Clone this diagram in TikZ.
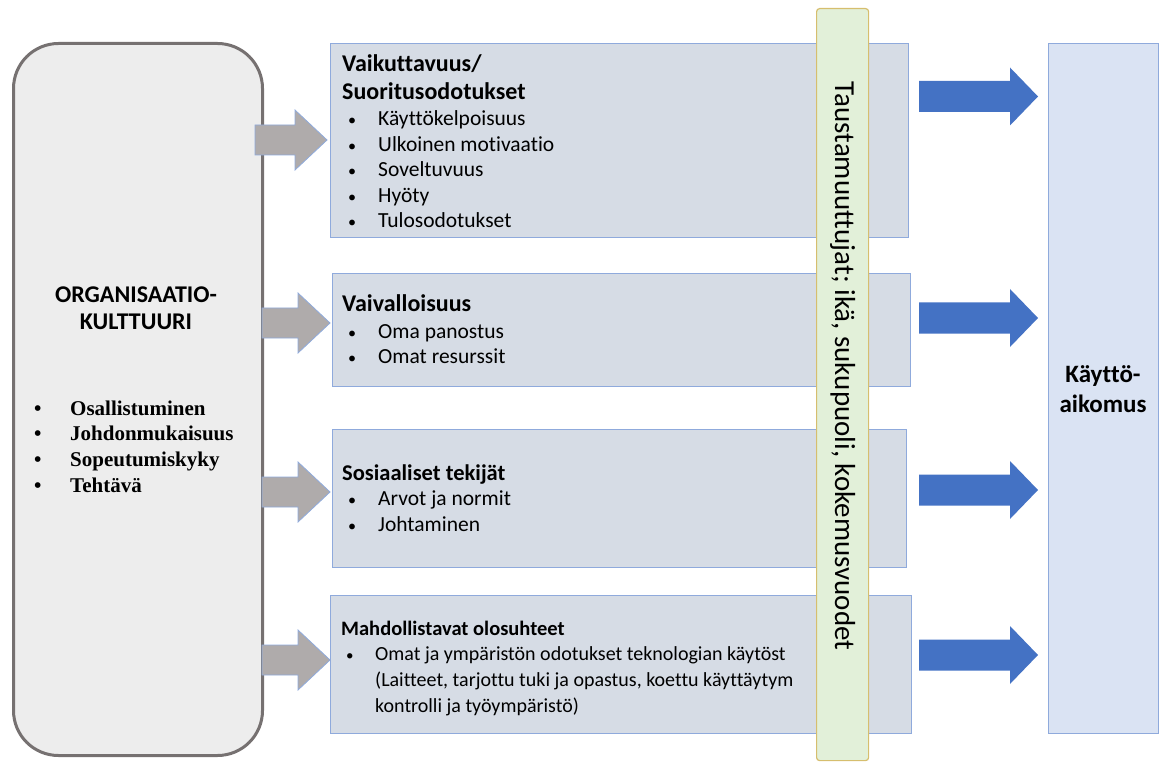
\documentclass[tikz,border=0pt]{standalone}
\usepackage{fontspec}
\setmainfont{Carlito}[Ligatures=CommonOff]
\newfontfamily\serifbold{Liberation Serif}
\usepackage{tikz}
\usetikzlibrary{positioning, calc}
\definecolor{orggray}{RGB}{237, 237, 237}
\definecolor{orgline}{RGB}{118, 113, 113}
\definecolor{boxfill}{RGB}{214, 220, 229}
\definecolor{boxline}{RGB}{143, 170, 220}
\definecolor{arrgray}{RGB}{175, 171, 171}
\definecolor{arrblue}{RGB}{68, 114, 196}
\definecolor{barfill}{RGB}{226, 240, 217}
\definecolor{barline}{RGB}{214, 190, 110}
\definecolor{goalfill}{RGB}{218, 227, 243}

\newcommand{\bul}{\makebox[31pt][l]{\hspace*{1pt}\scalebox{0.75}{\textbullet}}}
% block arrow: style, x start, x end, y centre, shaft half, head half, head length
\newcommand{\blockarrow}[7]{%
  \draw[#1] (#2,#4-#5) -- (#3-#7,#4-#5) -- (#3-#7,#4-#6) -- (#3,#4)
    -- (#3-#7,#4+#6) -- (#3-#7,#4+#5) -- (#2,#4+#5) -- cycle;}

\begin{document}
\begin{tikzpicture}[x=1pt, y=-1pt,
  factor/.style={draw=boxline, fill=boxfill, line width=1.2pt, anchor=north west, inner sep=0pt},
  line/.style={anchor=base west, inner sep=0pt},
  item/.style={line, font=\fontsize{21.5}{26}\selectfont},
  grayarrow/.style={draw=boxline, fill=arrgray, line width=0.8pt},
  bluearrow/.style={draw=none, fill=arrblue}]
  \useasboundingbox (0,0) rectangle (1160,762);

  % Organisational culture
  \node[draw=orgline, fill=orggray, line width=3pt, rounded corners=45pt, minimum width=249pt, minimum height=712pt, anchor=north west] (org) at (12,42) {};
  \node[line, anchor=base, font=\bfseries\fontsize{24}{28}\selectfont] (orgtitle1) at (136,302) {ORGANISAATIO-};
  \node[line, anchor=base, font=\bfseries\fontsize{24}{28}\selectfont] (orgtitle2) at (136,330) {KULTTUURI};
  \foreach \txt [count=\i] in {Osallistuminen, Johdonmukaisuus, Sopeutumiskyky, Tehtävä}
    \node[line, font=\serifbold\bfseries\fontsize{21}{26}\selectfont] (org-\i) at (34,415-25.7+25.7*\i) {\makebox[36pt][l]{\textbullet}\txt};

  % Factor boxes
  \node[factor, minimum width=578pt, minimum height=194pt] (perf) at (330,43) {};
  \node[factor, minimum width=578pt, minimum height=113pt] (effort) at (332,273) {};
  \node[factor, minimum width=574pt, minimum height=138pt] (social) at (332,429) {};
  \node[factor, minimum width=581pt, minimum height=138pt] (cond) at (330,595) {};

  % Performance expectancy
  \node[line, font=\bfseries\fontsize{24}{28}\selectfont] (perftitle1) at (342,72) {Vaikuttavuus/};
  \node[line, font=\bfseries\fontsize{24}{28}\selectfont] (perftitle2) at (342,100) {Suoritusodotukset};
  \foreach \txt [count=\i] in {Käyttökelpoisuus, Ulkoinen motivaatio, Soveltuvuus, Hyöty, Tulosodotukset}
    \node[item] (perf-\i) at (347,126-25.5+25.5*\i) {\bul\txt};

  % Effort expectancy
  \node[line, font=\bfseries\fontsize{24}{28}\selectfont] (efforttitle) at (342,312) {Vaivalloisuus};
  \foreach \txt [count=\i] in {Oma panostus, Omat resurssit}
    \node[item] (effort-\i) at (347,338-25.5+25.5*\i) {\bul\txt};

  % Social influence
  \node[line, font=\bfseries\fontsize{22.5}{28}\selectfont] (socialtitle) at (342,480) {Sosiaaliset tekijät};
  \foreach \txt [count=\i] in {Arvot ja normit, Johtaminen}
    \node[item] (social-\i) at (347,505.5-26+26*\i) {\bul\txt};

  % Facilitating conditions
  \node[line, font=\bfseries\fontsize{20.5}{26}\selectfont] (condtitle) at (341,635) {Mahdollistavat olosuhteet};
  \node[line, font=\fontsize{20}{26}\selectfont] (cond-1) at (345,660) {\makebox[30pt][l]{\hspace*{1pt}\scalebox{0.75}{\textbullet}}Omat ja ympäristön odotukset teknologian käytöst};
  \node[line, font=\fontsize{20}{26}\selectfont] (cond-2) at (375,686) {(Laitteet, tarjottu tuki ja opastus, koettu käyttäytym};
  \node[line, font=\fontsize{20}{26}\selectfont] (cond-3) at (375,712) {kontrolli ja työympäristö)};

  % Background variables
  \node[draw=barline, fill=barfill, line width=1.2pt, rounded corners=3pt, minimum width=52pt, minimum height=752pt, anchor=north west] (bar) at (816,8) {};
  \node[rotate=-90, font=\fontsize{29}{32}\selectfont] (bartext) at (bar.center |- 0,366) {Taustamuuttujat; ikä, sukupuoli, kokemusvuodet};

  % Intention
  \node[draw=boxline, fill=goalfill, line width=1.2pt, minimum width=110pt, minimum height=690pt, anchor=north west] (goal) at (1048,43) {};
  \node[line, anchor=base, font=\bfseries\fontsize{25}{28}\selectfont] (goaltext1) at (1103,382) {Käyttö-};
  \node[line, anchor=base, font=\bfseries\fontsize{25}{28}\selectfont] (goaltext2) at (1103,412) {aikomus};

  % Arrows
  \blockarrow{grayarrow}{255}{327}{140}{15}{30}{32}
  \blockarrow{grayarrow}{262}{330}{323}{15}{30}{32}
  \blockarrow{grayarrow}{262}{330}{492}{15}{30}{32}
  \blockarrow{grayarrow}{262}{330}{660}{15}{30}{32}

  \blockarrow{bluearrow}{919}{1038}{96.5}{15.5}{29}{28}
  \blockarrow{bluearrow}{919}{1038}{318}{15.5}{29}{28}
  \blockarrow{bluearrow}{919}{1038}{490}{15.5}{29}{28}
  \blockarrow{bluearrow}{919}{1038}{655}{15.5}{29}{28}
\end{tikzpicture}
\end{document}
